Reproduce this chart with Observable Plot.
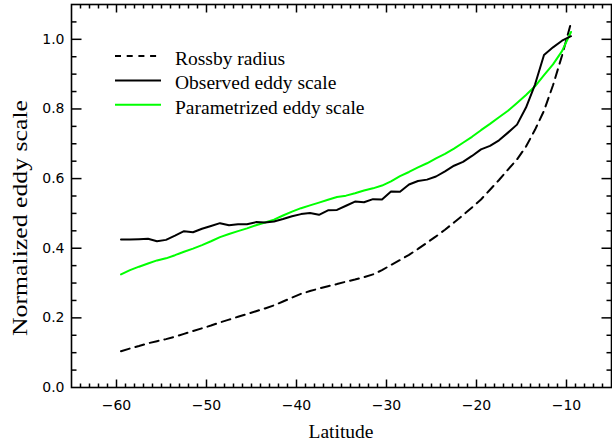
<!DOCTYPE html>
<html><head><meta charset="utf-8">
<script src="https://cdn.jsdelivr.net/npm/d3@7"></script>
<script src="https://cdn.jsdelivr.net/npm/@observablehq/plot@0.6"></script>
<style>
html,body{margin:0;padding:0;background:#fff;}
#chart{position:relative;width:612px;height:443px;}
</style></head><body><div id="chart"></div>
<script>
// ---- data ----
const latitude = [-59.5,-58.5,-57.5,-56.5,-55.5,-54.5,-53.5,-52.5,-51.5,-50.5,
  -49.5,-48.5,-47.5,-46.5,-45.5,-44.5,-43.5,-42.5,-41.5,-40.5,
  -39.5,-38.5,-37.5,-36.5,-35.5,-34.5,-33.5,-32.5,-31.5,-30.5,
  -29.5,-28.5,-27.5,-26.5,-25.5,-24.5,-23.5,-22.5,-21.5,-20.5,
  -19.5,-18.5,-17.5,-16.5,-15.5,-14.5,-13.5,-12.5,-11.5,-10.5,-9.5];
const rossbyRadius = [0.104,0.112,0.119,0.127,0.133,0.139,0.146,0.154,0.162,0.170,
  0.178,0.187,0.195,0.203,0.211,0.219,0.227,0.236,0.247,0.258,
  0.269,0.277,0.284,0.291,0.297,0.304,0.310,0.317,0.325,0.337,
  0.352,0.366,0.381,0.398,0.416,0.434,0.453,0.474,0.495,0.517,
  0.540,0.568,0.596,0.626,0.655,0.692,0.740,0.795,0.868,0.953,1.047];
const observedScale = [0.425,0.425,0.426,0.427,0.420,0.424,0.436,0.449,0.446,0.456,
  0.464,0.472,0.466,0.469,0.469,0.475,0.474,0.477,0.484,0.492,
  0.498,0.501,0.496,0.509,0.510,0.522,0.534,0.532,0.541,0.540,
  0.563,0.562,0.583,0.593,0.597,0.606,0.621,0.637,0.648,0.665,
  0.684,0.694,0.710,0.732,0.755,0.804,0.870,0.955,0.977,0.996,1.009];
const parametrizedScale = [0.325,0.337,0.347,0.356,0.365,0.371,0.380,0.390,0.399,0.409,
  0.420,0.432,0.441,0.449,0.457,0.466,0.474,0.482,0.494,0.505,
  0.515,0.523,0.531,0.539,0.547,0.551,0.558,0.566,0.572,0.580,
  0.592,0.607,0.619,0.632,0.644,0.658,0.671,0.686,0.703,0.720,
  0.739,0.757,0.776,0.795,0.817,0.840,0.865,0.897,0.928,0.966,1.021];
const xTickLabels = [-60,-50,-40,-30,-20,-10];
const yTickLabels = [0.0,0.2,0.4,0.6,0.8,1.0];
const seriesNames = ["Rossby radius","Observed eddy scale","Parametrized eddy scale"];
const seriesColors = ["#000000","#000000","#00ff00"];
const seriesDash = ["6,5.7",null,null];
const xTitle = "Latitude";
const yTitle = "Normalized eddy scale";

// ---- layout ----
const W = 612, H = 443, mt = 4, mr = 1, mb = 56, ml = 71;
const innerH = H - mt - mb, innerW = W - ml - mr;
const xDom = [-65, -5], yDom = [0, 1.1];
const xMinor = d3.range(-64, -5, 1);
const yMinor = d3.range(1, 22).map(i => i * 0.05);
// tick lengths given in pixels, converted to data units
const px2x = p => p / innerW * (xDom[1] - xDom[0]);
const px2y = p => p / innerH * (yDom[1] - yDom[0]);
const sans = "'DejaVu Sans', Verdana, sans-serif";
const serif = "'Liberation Serif', 'Times New Roman', Times, serif";

// inward ticks on all four sides
const xTickSegs = [];
xMinor.forEach(v => {
  const len = xTickLabels.includes(v) ? 8 : 4;
  xTickSegs.push({v, a: yDom[0], b: yDom[0] + px2y(len)});
  xTickSegs.push({v, a: yDom[1], b: yDom[1] - px2y(len)});
});
const yTickSegs = [];
yMinor.forEach(v => {
  const major = yTickLabels.some(t => Math.abs(t - v) < 1e-9);
  const len = major ? 10 : 5;
  yTickSegs.push({v, a: xDom[0], b: xDom[0] + px2x(len)});
  yTickSegs.push({v, a: xDom[1], b: xDom[1] - px2x(len)});
});

const plot = Plot.plot({
  width: W, height: H,
  marginTop: mt, marginRight: mr, marginBottom: mb, marginLeft: ml,
  x: {domain: xDom},
  y: {domain: yDom},
  style: {fontFamily: sans, color: "#000", background: "#fff"},
  marks: [
    Plot.line(latitude, {x: latitude, y: rossbyRadius, stroke: "#000", strokeWidth: 2, strokeDasharray: "9,6"}),
    Plot.line(latitude, {x: latitude, y: parametrizedScale, stroke: "#00ff00", strokeWidth: 2}),
    Plot.line(latitude, {x: latitude, y: observedScale, stroke: "#000", strokeWidth: 2}),
    Plot.link(xTickSegs, {x1: "v", x2: "v", y1: "a", y2: "b", stroke: "#000", strokeWidth: 1.5}),
    Plot.link(yTickSegs, {y1: "v", y2: "v", x1: "a", x2: "b", stroke: "#000", strokeWidth: 1.5}),
    Plot.frame({stroke: "#000", strokeWidth: 1.6}),
    Plot.axisX(xTickLabels, {tickSize: 0, tickPadding: 13, fontSize: 14, label: null}),
    Plot.axisY(yTickLabels, {tickSize: 0, tickPadding: 7, fontSize: 14, label: null, tickFormat: d3.format(".1f")})
  ]
});

const svg = d3.select(plot);
svg.append("text")
  .attr("x", ml + innerW / 2).attr("y", 438)
  .attr("text-anchor", "middle")
  .attr("font-family", serif).attr("font-size", 19.5).attr("fill", "#000")
  .text(xTitle);
svg.append("text")
  .attr("transform", "translate(26.5,218) rotate(-90)")
  .attr("text-anchor", "middle")
  .attr("font-family", serif).attr("font-size", 21).attr("fill", "#000")
  .attr("textLength", 236).attr("lengthAdjust", "spacingAndGlyphs")
  .text(yTitle);

const lg = svg.append("g");
seriesNames.forEach((name, i) => {
  const ly = 56 + i * 24.4;
  lg.append("line").attr("x1", 115).attr("x2", 161).attr("y1", ly).attr("y2", ly)
    .attr("stroke", seriesColors[i]).attr("stroke-width", 2)
    .attr("stroke-dasharray", seriesDash[i]);
  lg.append("text").attr("x", 175).attr("y", ly + 8.8)
    .attr("text-anchor", "start")
    .attr("font-family", serif).attr("font-size", 19.5).attr("fill", "#000")
    .text(name);
});

document.getElementById("chart").appendChild(plot);
</script>
</body></html>
